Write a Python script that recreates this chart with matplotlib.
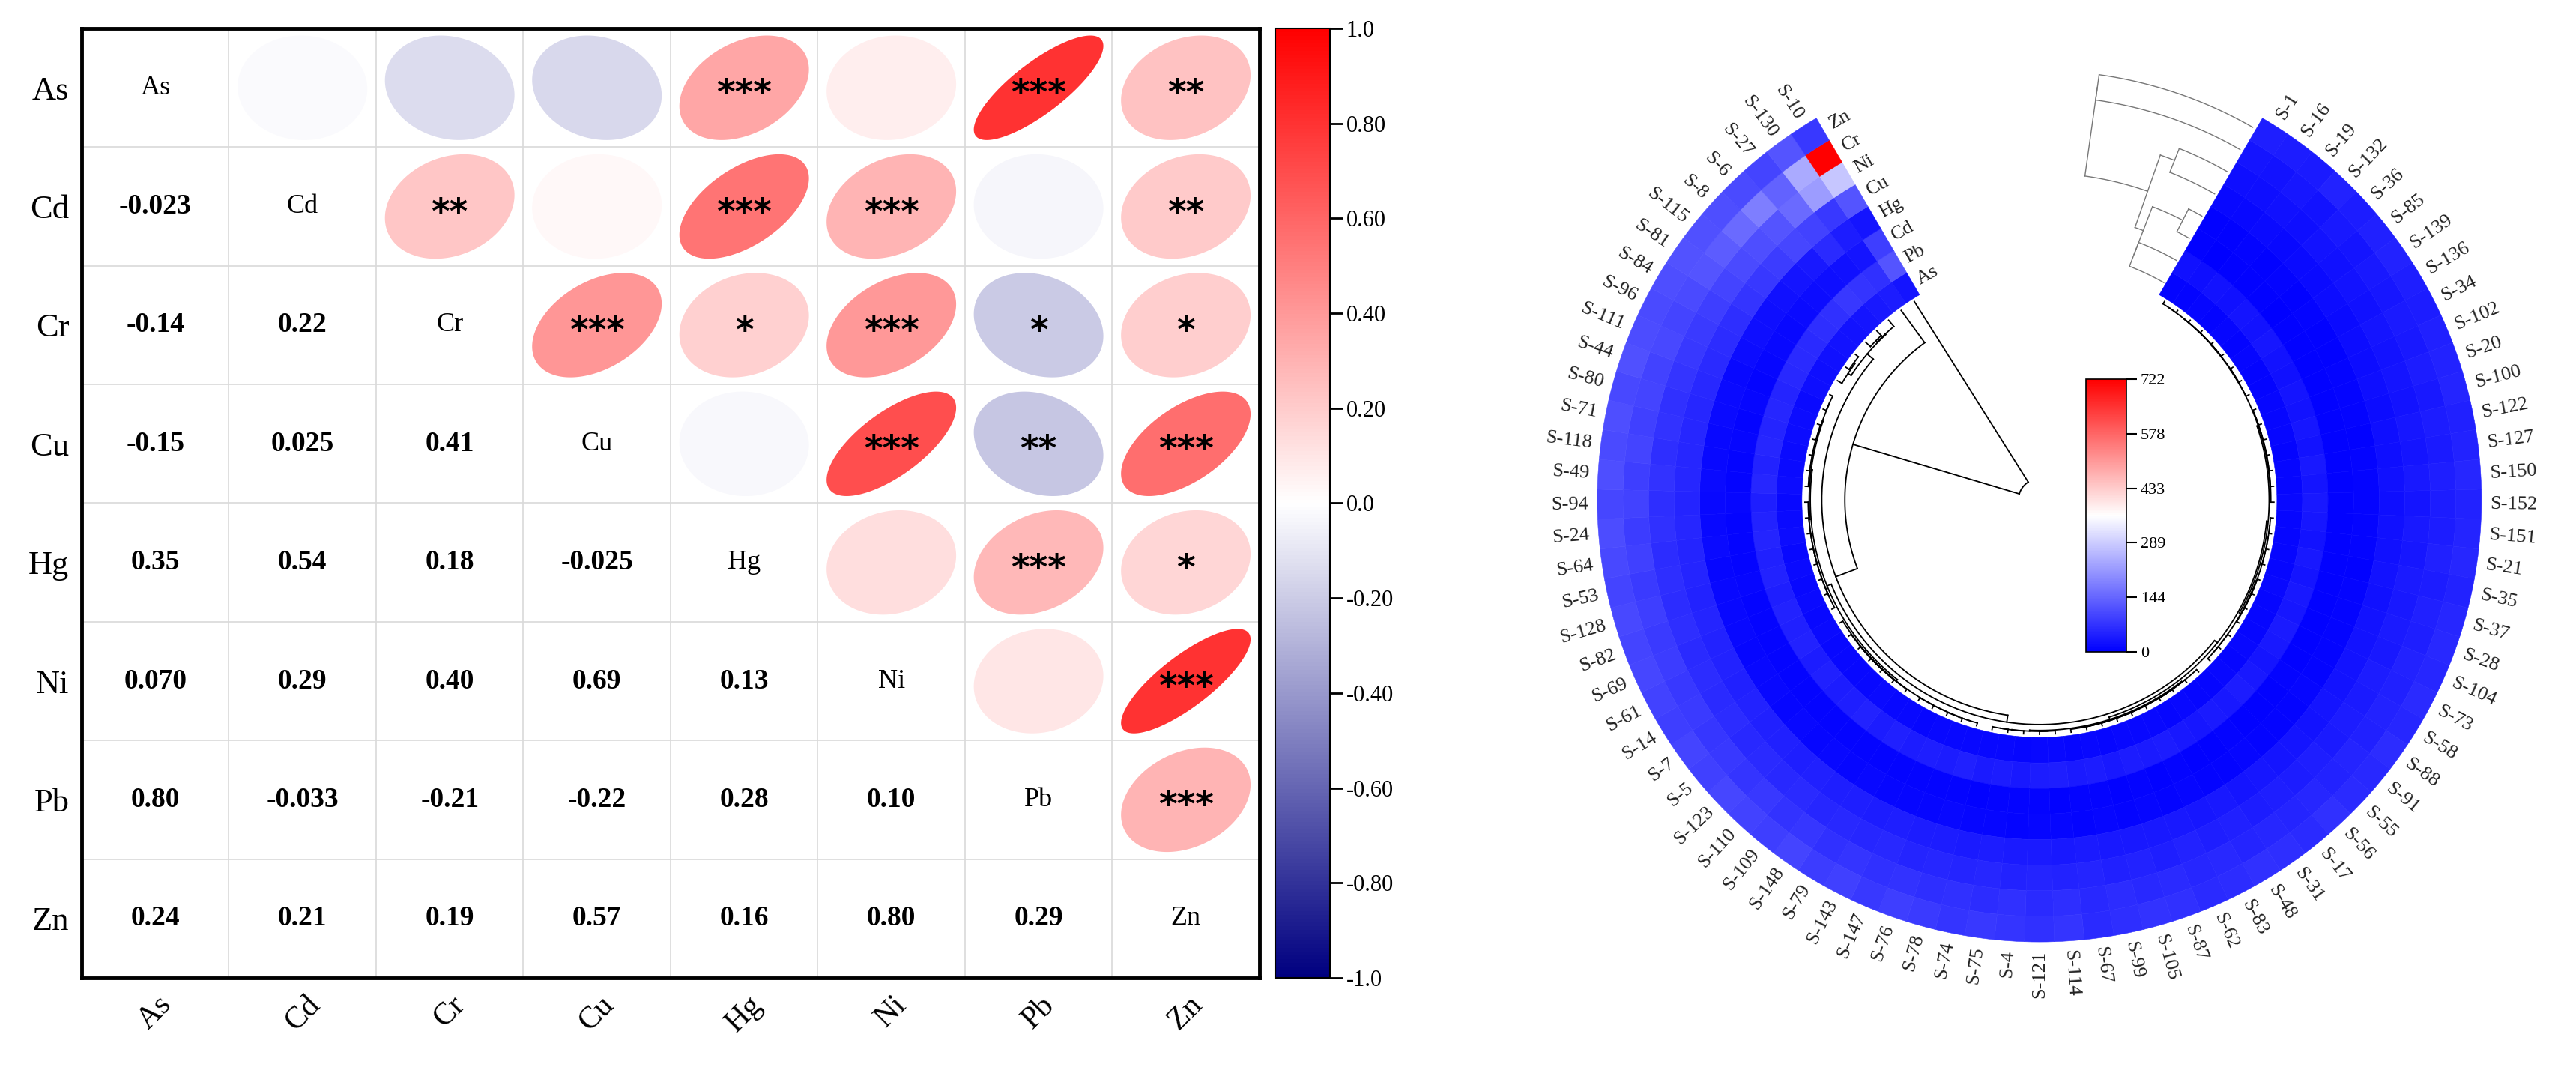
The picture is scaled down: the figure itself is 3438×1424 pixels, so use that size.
import numpy as np
import matplotlib
matplotlib.use("Agg")
import matplotlib.pyplot as plt
from matplotlib.colors import LinearSegmentedColormap, Normalize
import matplotlib.cm as cm

plt.rcParams['font.family'] = ['Liberation Serif', 'DejaVu Serif']

# ---------------- data: correlation panel ----------------
elements = ["As", "Cd", "Cr", "Cu", "Hg", "Ni", "Pb", "Zn"]
lower_r = {
    ("Cd", "As"): -0.023,
    ("Cr", "As"): -0.14, ("Cr", "Cd"): 0.22,
    ("Cu", "As"): -0.15, ("Cu", "Cd"): 0.025, ("Cu", "Cr"): 0.41,
    ("Hg", "As"): 0.35, ("Hg", "Cd"): 0.54, ("Hg", "Cr"): 0.18, ("Hg", "Cu"): -0.025,
    ("Ni", "As"): 0.070, ("Ni", "Cd"): 0.29, ("Ni", "Cr"): 0.40, ("Ni", "Cu"): 0.69, ("Ni", "Hg"): 0.13,
    ("Pb", "As"): 0.80, ("Pb", "Cd"): -0.033, ("Pb", "Cr"): -0.21, ("Pb", "Cu"): -0.22, ("Pb", "Hg"): 0.28,
    ("Pb", "Ni"): 0.10,
    ("Zn", "As"): 0.24, ("Zn", "Cd"): 0.21, ("Zn", "Cr"): 0.19, ("Zn", "Cu"): 0.57, ("Zn", "Hg"): 0.16,
    ("Zn", "Ni"): 0.80, ("Zn", "Pb"): 0.29,
}
lower_txt = {
    ("Cd", "As"): "-0.023", ("Cr", "As"): "-0.14", ("Cr", "Cd"): "0.22",
    ("Cu", "As"): "-0.15", ("Cu", "Cd"): "0.025", ("Cu", "Cr"): "0.41",
    ("Hg", "As"): "0.35", ("Hg", "Cd"): "0.54", ("Hg", "Cr"): "0.18", ("Hg", "Cu"): "-0.025",
    ("Ni", "As"): "0.070", ("Ni", "Cd"): "0.29", ("Ni", "Cr"): "0.40", ("Ni", "Cu"): "0.69", ("Ni", "Hg"): "0.13",
    ("Pb", "As"): "0.80", ("Pb", "Cd"): "-0.033", ("Pb", "Cr"): "-0.21", ("Pb", "Cu"): "-0.22",
    ("Pb", "Hg"): "0.28", ("Pb", "Ni"): "0.10",
    ("Zn", "As"): "0.24", ("Zn", "Cd"): "0.21", ("Zn", "Cr"): "0.19", ("Zn", "Cu"): "0.57",
    ("Zn", "Hg"): "0.16", ("Zn", "Ni"): "0.80", ("Zn", "Pb"): "0.29",
}
stars = {
    ("As", "Hg"): "***", ("As", "Pb"): "***", ("As", "Zn"): "**",
    ("Cd", "Cr"): "**", ("Cd", "Hg"): "***", ("Cd", "Ni"): "***", ("Cd", "Zn"): "**",
    ("Cr", "Cu"): "***", ("Cr", "Hg"): "*", ("Cr", "Ni"): "***", ("Cr", "Pb"): "*", ("Cr", "Zn"): "*",
    ("Cu", "Ni"): "***", ("Cu", "Pb"): "**", ("Cu", "Zn"): "***",
    ("Hg", "Pb"): "***", ("Hg", "Zn"): "*",
    ("Ni", "Zn"): "***", ("Pb", "Zn"): "***",
}
corr_ticks = [1.0, 0.8, 0.6, 0.4, 0.2, 0.0, -0.2, -0.4, -0.6, -0.8, -1.0]
corr_ticklabels = ["1.0", "0.80", "0.60", "0.40", "0.20", "0.0", "-0.20", "-0.40", "-0.60", "-0.80", "-1.0"]

# ---------------- data: circular heatmap ----------------
samples = [
    "S-1", "S-16", "S-19", "S-132", "S-36", "S-85", "S-139", "S-136", "S-34", "S-102", "S-20",
    "S-100", "S-122", "S-127", "S-150", "S-152", "S-151", "S-21", "S-35", "S-37", "S-28", "S-104",
    "S-73", "S-58", "S-88", "S-91", "S-55", "S-56", "S-17", "S-31", "S-48", "S-83", "S-62",
    "S-87", "S-105", "S-99", "S-67", "S-114", "S-121", "S-4", "S-75", "S-74", "S-78", "S-76",
    "S-147", "S-143", "S-79", "S-148", "S-109", "S-110", "S-123", "S-5", "S-7", "S-14", "S-61",
    "S-69", "S-82", "S-128", "S-53", "S-64", "S-24", "S-94", "S-49", "S-118", "S-71", "S-80",
    "S-44", "S-111", "S-96", "S-84", "S-81", "S-115", "S-8", "S-6", "S-27", "S-130", "S-10",
]
ring_elements = ["As", "Pb", "Cd", "Hg", "Cu", "Ni", "Cr", "Zn"]  # inner -> outer
Zn = [45, 40, 38, 48, 42, 46, 50, 44, 40, 46, 48,
      52, 46, 50, 54, 48, 52, 56, 50, 54, 58, 56,
      60, 54, 64, 58, 62, 68, 60, 66, 70, 64, 60,
      68, 72, 66, 62, 74, 70, 76, 80, 76, 84, 88,
      80, 92, 86, 96, 90, 94, 100, 92, 98, 88, 94,
      100, 96, 104, 98, 102, 108, 100, 110, 106, 112, 104,
      115, 108, 106, 112, 116, 114, 110, 105, 98, 120, 80]
Cr = [30, 26, 32, 28, 34, 30, 36, 33, 38, 34, 40,
      36, 42, 38, 44, 40, 42, 46, 41, 47, 44, 48,
      46, 50, 47, 53, 48, 54, 51, 56, 53, 58, 54,
      60, 57, 63, 58, 66, 61, 68, 64, 69, 66, 71,
      68, 74, 70, 77, 72, 79, 75, 81, 78, 84, 80,
      86, 82, 88, 84, 92, 87, 94, 90, 96, 92, 98,
      95, 102, 98, 106, 120, 130, 150, 180, 140, 240, 722]
Ni = [22, 20, 24, 22, 26, 24, 28, 25, 30, 27, 31,
      28, 33, 30, 34, 31, 36, 33, 37, 34, 39, 36,
      40, 37, 42, 39, 43, 40, 45, 42, 46, 43, 48,
      45, 49, 46, 51, 48, 52, 49, 54, 51, 55, 52,
      57, 54, 58, 55, 60, 57, 61, 58, 63, 60, 64,
      61, 66, 63, 67, 64, 69, 66, 71, 67, 73, 70,
      75, 79, 82, 90, 98, 105, 112, 120, 150, 220, 280]
Cu = [14, 12, 15, 14, 16, 15, 18, 16, 19, 18, 20,
      19, 22, 20, 23, 22, 24, 23, 26, 24, 27, 26,
      28, 27, 30, 28, 31, 30, 32, 31, 34, 32, 35,
      34, 36, 35, 38, 36, 39, 38, 40, 39, 42, 40,
      43, 42, 44, 43, 46, 44, 47, 46, 48, 47, 50,
      48, 51, 50, 52, 51, 54, 52, 55, 54, 56, 55,
      58, 60, 64, 67, 74, 80, 87, 100, 94, 80, 120]
Hg = [5, 4, 6, 5, 7, 5, 6, 4, 5, 6, 7,
      6, 5, 7, 6, 8, 6, 7, 5, 6, 8, 7,
      8, 6, 9, 7, 8, 6, 10, 8, 7, 9, 8,
      9, 7, 10, 8, 11, 9, 8, 10, 9, 12, 10,
      11, 9, 12, 10, 13, 11, 12, 10, 14, 12, 11,
      13, 12, 14, 11, 15, 13, 12, 16, 14, 13, 15,
      16, 14, 18, 20, 22, 25, 30, 35, 60, 40, 30]
Cd = [3, 2, 3, 4, 3, 2, 4, 3, 3, 4, 3,
      4, 3, 5, 4, 3, 4, 5, 4, 3, 5, 4,
      5, 4, 6, 5, 4, 5, 6, 5, 4, 6, 5,
      6, 5, 7, 6, 5, 6, 7, 6, 5, 7, 6,
      7, 6, 8, 7, 6, 7, 8, 7, 6, 8, 7,
      8, 7, 9, 8, 7, 8, 9, 8, 7, 9, 8,
      9, 8, 10, 12, 14, 16, 18, 20, 25, 30, 90]
Pb = [25, 22, 28, 24, 30, 26, 32, 28, 24, 30, 26,
      32, 28, 34, 30, 36, 32, 28, 34, 30, 36, 32,
      38, 34, 30, 36, 40, 34, 38, 32, 36, 42, 38,
      40, 36, 42, 38, 44, 40, 36, 42, 38, 46, 42,
      44, 40, 46, 42, 48, 44, 40, 46, 42, 50, 46,
      48, 44, 50, 46, 52, 48, 44, 54, 50, 56, 52,
      55, 52, 58, 60, 62, 66, 70, 80, 75, 70, 120]
As = [8, 7, 9, 8, 10, 8, 9, 7, 8, 10, 9,
      10, 8, 11, 9, 12, 10, 9, 11, 10, 12, 10,
      11, 9, 12, 10, 13, 11, 10, 12, 11, 13, 12,
      12, 10, 13, 11, 14, 12, 11, 13, 12, 14, 13,
      13, 11, 14, 12, 15, 13, 12, 14, 13, 16, 14,
      15, 13, 16, 14, 17, 15, 14, 18, 16, 15, 17,
      18, 16, 20, 22, 24, 26, 28, 30, 35, 40, 30]
heat_ticks = [0, 144, 289, 433, 578, 722]
heat_max = 722

# ---------------- figure ----------------
fig = plt.figure(figsize=(34.38, 14.24), dpi=100)

cmap_corr = LinearSegmentedColormap.from_list("corr", [(0, "#000080"), (0.5, "#ffffff"), (1, "#ff0000")])
norm_corr = Normalize(-1, 1)
ax = fig.add_axes([0.0317, 0.0836, 0.4572, 0.8897])
n = len(elements)
ax.set_xlim(0, n)
ax.set_ylim(0, n)
for k in range(1, n):
    ax.axhline(k, color="#d9d9d9", lw=1.2, zorder=0)
    ax.axvline(k, color="#d9d9d9", lw=1.2, zorder=0)
for i, ri in enumerate(elements):
    y = n - 1 - i + 0.5
    for j, cj in enumerate(elements):
        x = j + 0.5
        if i == j:
            ax.text(x, y, ri, ha="center", va="center", fontsize=26)
        elif i > j:
            ax.text(x, y, lower_txt[(ri, cj)], ha="center", va="center", fontsize=27, fontweight="bold")
        else:
            r = lower_r[(cj, ri)]
            d = 0.88
            major = d * np.sqrt(1 + abs(r))
            minor = d * np.sqrt(1 - abs(r))
            ang = 45 if r > 0 else -45
            t = np.linspace(0, 2 * np.pi, 200)
            ex = major / 2 * np.cos(t)
            ey = minor / 2 * np.sin(t)
            ca, sa = np.cos(np.deg2rad(ang)), np.sin(np.deg2rad(ang))
            px = ex * ca - ey * sa
            py = ex * sa + ey * ca
            ax.fill(x + px, y + py, color=cmap_corr(norm_corr(r)), lw=0, zorder=1)
            s = stars.get((ri, cj))
            if s:
                ax.text(x, y - 0.06, s, ha="center", va="center", fontsize=34, fontweight="bold",
                        family=["DejaVu Sans"], zorder=2)
ax.set_xticks(np.arange(n) + 0.5)
ax.set_xticklabels(elements, rotation=45, fontsize=30)
ax.set_yticks(np.arange(n) + 0.5)
ax.set_yticklabels(elements[::-1], fontsize=32)
ax.tick_params(length=0, pad=12)
for sp in ax.spines.values():
    sp.set_linewidth(3.5)

cax = fig.add_axes([0.4951, 0.0836, 0.0212, 0.8897])
cb = fig.colorbar(cm.ScalarMappable(norm=norm_corr, cmap=cmap_corr), cax=cax)
cb.set_ticks(corr_ticks)
cb.set_ticklabels(corr_ticklabels)
cb.ax.tick_params(labelsize=22, length=12, width=2)
cb.outline.set_linewidth(1.5)

# ---------------- circular heatmap ----------------
pax = fig.add_axes([0.5881, 0.0400, 0.4072, 0.9831], projection="polar")
pax.set_theta_zero_location("N")
pax.set_theta_direction(-1)
pax.set_ylim(0, 700)
pax.set_axis_off()

cmap_heat = plt.get_cmap("bwr")
norm_heat = Normalize(0, heat_max)
data = {"Zn": Zn, "Cr": Cr, "Ni": Ni, "Cu": Cu, "Hg": Hg, "Cd": Cd, "Pb": Pb, "As": As}
mat = np.array([data[e] for e in ring_elements], dtype=float)
ns = len(samples)
th0, th1 = 30.3, 329.7
wdeg = (th1 - th0) / ns
thetas = np.deg2rad(th0 + (np.arange(ns) + 0.5) * wdeg)
r_in, r_out = 317, 590
rh = (r_out - r_in) / len(ring_elements)
for k, e in enumerate(ring_elements):
    cols = cmap_heat(norm_heat(mat[k]))
    pax.bar(thetas, rh, width=np.deg2rad(wdeg), bottom=r_in + k * rh, color=cols,
            edgecolor=cols, linewidth=0.4, align="center")

for t, s in zip(thetas, samples):
    deg = np.rad2deg(t)
    if deg < 180:
        rot, ha = 90 - deg, "left"
    else:
        rot, ha = 270 - deg, "right"
    pax.text(t, r_out + 12, s, rotation=rot, rotation_mode="anchor", ha=ha, va="center",
             fontsize=19, color="#222222")

for k, e in enumerate(ring_elements):
    t = np.deg2rad(th1 + 1.2)
    pax.text(t, r_in + (k + 0.5) * rh, e, rotation=-(th1 + 1.2), rotation_mode="anchor",
             ha="left", va="center", fontsize=19, color="#222222")


def ordered_cluster(vectors):
    cl = [{"n": 1, "c": np.asarray(v, float), "pos": float(i), "h": 0.0} for i, v in enumerate(vectors)]
    links = []
    while len(cl) > 1:
        dists = [np.linalg.norm(cl[k]["c"] - cl[k + 1]["c"]) for k in range(len(cl) - 1)]
        k = int(np.argmin(dists))
        a, b = cl[k], cl[k + 1]
        h = max(dists[k], a["h"], b["h"])
        nn = a["n"] + b["n"]
        new = {"n": nn, "c": (a["c"] * a["n"] + b["c"] * b["n"]) / nn,
               "pos": (a["pos"] + b["pos"]) / 2, "h": h}
        links.append((a["pos"], a["h"], b["pos"], b["h"], h))
        cl[k:k + 2] = [new]
    return links


links = ordered_cluster(mat.T)
H = max(l[4] for l in links)
def rmap(h):
    f = h / H
    return r_in - 4 - 250 * f ** 2 - 35 * f ** 0.5
def tmap(p):
    return np.deg2rad(th0 + (p + 0.5) * wdeg)
for pa, ha_, pb, hb, h in links:
    ta, tb = tmap(pa), tmap(pb)
    pax.plot([ta, ta], [rmap(ha_), rmap(h)], color="black", lw=1.3)
    pax.plot([tb, tb], [rmap(hb), rmap(h)], color="black", lw=1.3)
    arc = np.linspace(ta, tb, 60)
    pax.plot(arc, np.full_like(arc, rmap(h)), color="black", lw=1.3)

clinks = ordered_cluster(mat)
Hc = max(l[4] for l in clinks)
def cang(h):
    return np.deg2rad(th0 - 0.5 - (th0 - 0.5 - 8) * h / Hc)
def crad(p):
    return r_in + (p + 0.5) * rh
for pa, ha_, pb, hb, h in clinks:
    for p, hh in ((pa, ha_), (pb, hb)):
        arc = np.linspace(cang(hh), cang(h), 40)
        pax.plot(arc, np.full_like(arc, crad(p)), color="#777777", lw=1.0)
    pax.plot([cang(h), cang(h)], [crad(pa), crad(pb)], color="#777777", lw=1.0)

hcax = fig.add_axes([0.8098, 0.389, 0.0157, 0.2556])
hcb = fig.colorbar(cm.ScalarMappable(norm=norm_heat, cmap=cmap_heat), cax=hcax)
hcb.set_ticks(heat_ticks)
hcb.ax.tick_params(labelsize=16, length=10, width=1.5)
hcb.outline.set_linewidth(1.2)

fig.savefig("out.png", dpi=100)
